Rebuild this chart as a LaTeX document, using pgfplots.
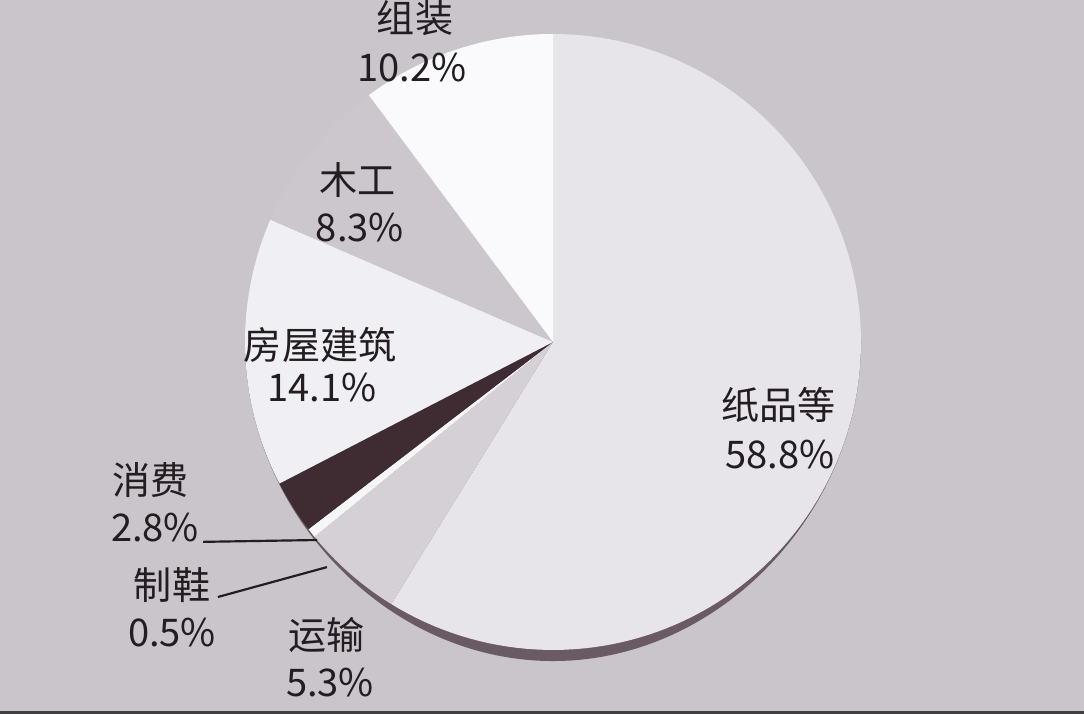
\documentclass[border=0pt]{standalone}
\usepackage{pgfplots}
\pgfplotsset{compat=1.18}
\usepackage{fontspec}
\setmainfont{Noto Sans CJK SC}
\definecolor{bg}{RGB}{201,197,202}
\definecolor{cPaper}{RGB}{231,229,234}
\definecolor{cTrans}{RGB}{212,208,213}
\definecolor{cShoe}{RGB}{246,246,248}
\definecolor{cCons}{RGB}{62,44,50}
\definecolor{cHouse}{RGB}{240,239,243}
\definecolor{cWood}{RGB}{204,199,205}
\definecolor{cAsm}{RGB}{250,250,252}
\definecolor{shadow}{RGB}{105,90,100}
\definecolor{txt}{RGB}{35,28,32}
\def\cum{0}
\newcommand{\pieslice}[2]{%
  \pgfmathsetmacro{\angA}{90-3.6*\cum}%
  \pgfmathsetmacro{\newcum}{\cum+#1}%
  \pgfmathsetmacro{\angB}{90-3.6*\newcum}%
  \xdef\cum{\newcum}%
  \edef\tmp{\noexpand\addplot[draw=none, fill=#2, domain=\angB:\angA, samples=120] ({cos(x)},{sin(x)}) -- (axis cs:0,0) -- cycle;}%
  \tmp}
\begin{document}
\begin{tikzpicture}
\begin{axis}[
  width=14cm, height=9.221cm, scale only axis,
  hide axis, clip=false,
  xmin=-1.7955, xmax=1.7240, ymin=-1.2078, ymax=1.1104,
]
\fill[bg] (rel axis cs:0,0) rectangle (rel axis cs:1,1);
\fill[black!75] (rel axis cs:0,0) rectangle (rel axis cs:1,0.004);
% shadow along the lower rim of the pie
\addplot[draw=none, fill=shadow, domain=180:360, samples=200] ({cos(x)*(1+0.036*(sin(x))^4)},{sin(x)*(1+0.036*(sin(x))^4)}) -- cycle;
% slices, clockwise from 12 o'clock (percent values)
\pieslice{58.8}{cPaper}
\pieslice{5.3}{cTrans}
\pieslice{0.5}{cShoe}
\pieslice{2.8}{cCons}
\pieslice{14.1}{cHouse}
\pieslice{8.3}{cWood}
\pieslice{10.2}{cAsm}
% leader lines
\draw[txt, line width=0.8pt] (axis cs:-1.136,-0.649) -- (axis cs:-0.766,-0.643);
\draw[txt, line width=0.8pt] (axis cs:-1.088,-0.828) -- (axis cs:-0.734,-0.731);
% labels
\begin{scope}[every node/.style={font=\fontsize{14}{16}\selectfont, text=txt, inner sep=0pt, anchor=center}]
\node at (axis cs:-0.448,1.052) {组装};
\node at (axis cs:-0.458,0.890) {10.2\%};
\node at (axis cs:-0.636,0.526) {木工};
\node at (axis cs:-0.627,0.370) {8.3\%};
\node at (axis cs:-0.756,-0.010) {房屋建筑};
\node at (axis cs:-0.750,-0.149) {14.1\%};
\node at (axis cs:0.731,-0.205) {纸品等};
\node at (axis cs:0.737,-0.367) {58.8\%};
\node at (axis cs:-1.308,-0.448) {消费};
\node at (axis cs:-1.292,-0.601) {2.8\%};
\node at (axis cs:-1.237,-0.789) {制鞋};
\node at (axis cs:-1.237,-0.945) {0.5\%};
\node at (axis cs:-0.734,-0.951) {运输};
\node at (axis cs:-0.724,-1.107) {5.3\%};
\end{scope}
\end{axis}
\end{tikzpicture}
\end{document}
